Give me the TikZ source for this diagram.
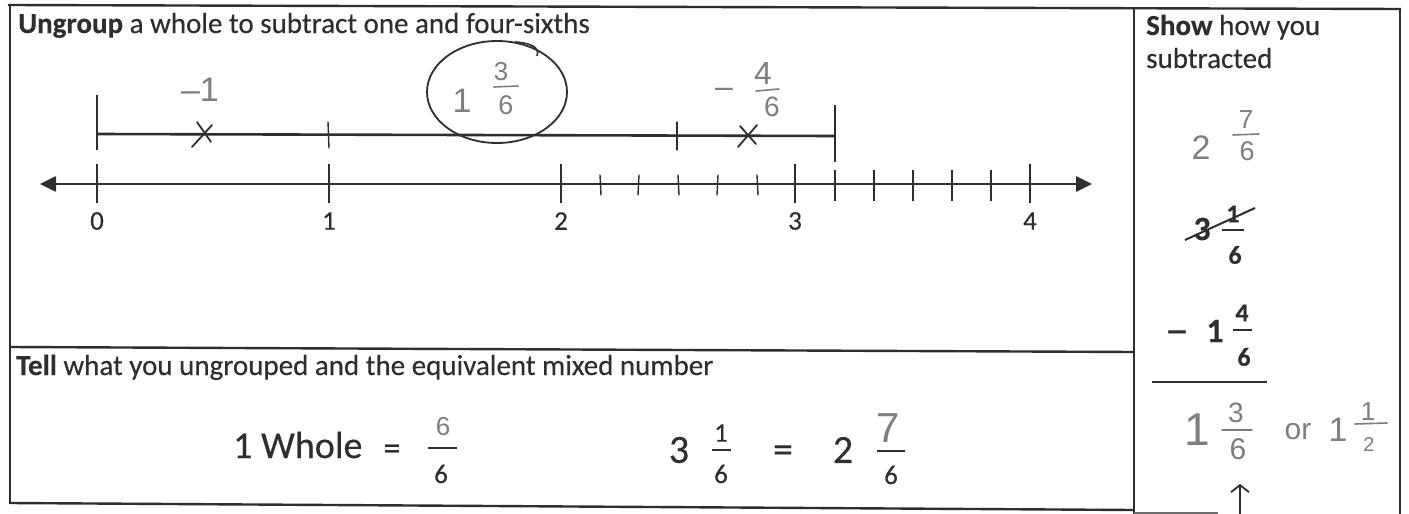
\documentclass[tikz,border=0pt]{standalone}
\usepackage{fontspec}
\setmainfont{Carlito}[FakeBold=0.3]
\newfontfamily\handfont{Liberation Sans}
\usetikzlibrary{arrows.meta}
\definecolor{ink}{HTML}{2E2E2E}
\definecolor{pencil}{HTML}{7E7E7E}
\tikzset{
  frameline/.style={draw=ink, line width=2.4pt},
  axisline/.style={draw=ink, line width=2.6pt},
  bigtick/.style={draw=ink, line width=2.8pt},
  handtick/.style={draw=ink, line width=1.4pt, line cap=round},
  pencilline/.style={draw=pencil, line width=1.6pt, line cap=round},
  fracbar/.style={draw=ink, line width=1.8pt},
  heading/.style={anchor=base west, inner sep=0pt, text=ink, font=\fontsize{29}{31}\selectfont},
  tickno/.style={inner sep=0pt, text=ink, font=\fontsize{27}{27}\selectfont},
  bignum/.style={inner sep=0pt, text=ink, font=\fontsize{40}{40}\selectfont},
  smallnum/.style={inner sep=0pt, text=ink, font=\fontsize{27}{27}\selectfont},
  rnum/.style={inner sep=0pt, text=ink, font=\bfseries\fontsize{26}{26}\selectfont},
  rnumbig/.style={inner sep=0pt, text=ink, font=\bfseries\fontsize{34}{34}\selectfont},
  hand/.style={inner sep=0pt, text=pencil, font=\handfont\fontsize{#1}{#1}\selectfont},
  hand/.default=26,
}
\begin{document}
\begin{tikzpicture}[x=1pt,y=-1pt]
\useasboundingbox[fill=white] (0,0) rectangle (1409,514);
% frame
\draw[frameline] (8,5) -- (1401,9);
\draw[frameline] (10,4) -- (10,504);
\draw[frameline] (1134,8) -- (1134,514);
\draw[frameline] (1400,8) -- (1400,514);
\draw[frameline] (10,347) -- (1134,352);
\draw[frameline] (10,503) -- (1134,510);
\draw[draw=ink!70, line width=1.2pt] (1134,513) -- (1218,513);
% headings
\node[heading] (ungroup) at (18,33) {\textbf{Ungroup} a whole to subtract one and four-sixths};
\node[heading] (show1) at (1146,35) {\textbf{Show} how you};
\node[heading] (show2) at (1146,68) {subtracted};
\node[heading] (tell) at (16,375) {\textbf{Tell} what you ungrouped and the equivalent mixed number};
% number line
\coordinate (nlL) at (40,184);
\coordinate (nlR) at (1092,184);
\draw[axisline, {Triangle[length=16pt,width=15pt]}-{Triangle[length=16pt,width=15pt]}] (nlL) -- (nlR);
\foreach \n/\x in {0/97,1/329,2/561,3/795,4/1030}{
  \draw[bigtick] (\x,164) -- (\x,203);
  \node[tickno] (lab\n) at (\x,221) {\n};
}
\foreach \x in {835,874,913,952,991} \draw[bigtick] (\x,170) -- (\x,201);
\foreach \x/\d in {600/1,639/-1,678/1,718/-1,757/1} \draw[handtick] (\x,175) -- (\x+\d,195);
% upper bar
\coordinate (barL) at (97,134);
\coordinate (barR) at (835,136);
\draw[axisline] (barL) -- (barR);
\draw[bigtick] (97,95) -- (97,150);
\draw[bigtick] (835,105) -- (835,162);
\draw[handtick] (328,122) -- (329,148);
\draw[handtick] (677,122) -- (677,150);
\draw[handtick, line width=1.8pt] (192,147) -- (212,125);
\draw[handtick, line width=1.8pt] (197,122) -- (211,142);
\draw[handtick, line width=1.8pt] (738,147) -- (757,125);
\draw[handtick, line width=1.8pt] (740,126) -- (756,144);
% handwriting on the bar
\node[hand=34] (minusone) at (200,90) {–1};
\draw[draw=ink, line width=1.8pt] (497,92) ellipse [x radius=70pt, y radius=51pt];
\draw[draw=ink, line width=1.6pt] (515,42) .. controls (532,43) and (540,48) .. (537,56);
\node[hand=34] (c1) at (462,101) {1};
\node[hand=26] (c3) at (501,72) {3};
\draw[pencilline] (494,87) -- (518,86);
\node[hand=27] (c6) at (506,105) {6};
\node[hand=32] (m46) at (724,93) {–};
\node[hand=32] (f4) at (763,73) {4};
\draw[pencilline] (756,91) -- (779,89);
\node[hand=28] (f6) at (772,107) {6};
% bottom section
\node[bignum, font=\fontsize{38}{38}\selectfont, anchor=base west] (whole) at (233,458) {1 Whole};
\node[bignum, font=\fontsize{34}{34}\selectfont] (eq1) at (392,452) {=};
\node[hand=26] (n6) at (443,427) {6};
\draw[fracbar] (428,448) -- (457,448);
\node[smallnum] (d6) at (441,474) {6};
\node[bignum] (three) at (679,450) {3};
\node[smallnum] (n1) at (721,433) {1};
\draw[fracbar] (712,450) -- (731,450);
\node[smallnum] (d6b) at (721,474) {6};
\node[bignum] (eq2) at (783,454) {=};
\node[bignum] (two) at (843,450) {2};
\node[hand=42] (n7) at (888,428) {7};
\draw[fracbar] (877,451) -- (905,451);
\node[smallnum] (d6c) at (891,475) {6};
% right panel
\node[hand=34] (r2) at (1201,148) {2};
\node[hand=26] (r7) at (1246,120) {7};
\draw[pencilline] (1233,135) -- (1259,134);
\node[hand=27] (r6) at (1247,151) {6};
\node[rnumbig] (r3) at (1202,229) {3};
\node[rnum] (r1) at (1233,214) {1};
\draw[fracbar] (1222,230) -- (1244,230);
\node[rnum] (r6b) at (1235,255) {6};
\draw[draw=ink, line width=2pt] (1185,240) -- (1255,208);
\node[rnumbig, xscale=1.45, transform shape] (rminus) at (1177,336) {–};
\node[rnumbig] (r1b) at (1215,331) {1};
\node[rnum] (r4) at (1242,313) {4};
\draw[fracbar] (1233,330) -- (1252,330);
\node[rnum] (r6c) at (1244,357) {6};
\draw[frameline] (1152,382) -- (1267,382);
\node[hand=46] (a1) at (1197,430) {1};
\node[hand=28] (a3) at (1236,413) {3};
\draw[pencilline] (1222,430) -- (1252,430);
\node[hand=30] (a6) at (1238,449) {6};
\node[hand=30] (aor) at (1298,432) {or};
\node[hand=34] (a1b) at (1338,430) {1};
\node[hand=26] (a1c) at (1368,412) {1};
\draw[pencilline] (1355,424) -- (1387,423);
\node[hand=20] (a2) at (1369,445) {2};
\coordinate (arrB) at (1240,514);
\coordinate (arrT) at (1240,484);
\draw[draw=ink, line width=1.8pt, -{Straight Barb[length=7pt,width=18pt]}] (arrB) -- (arrT);
\end{tikzpicture}
\end{document}
